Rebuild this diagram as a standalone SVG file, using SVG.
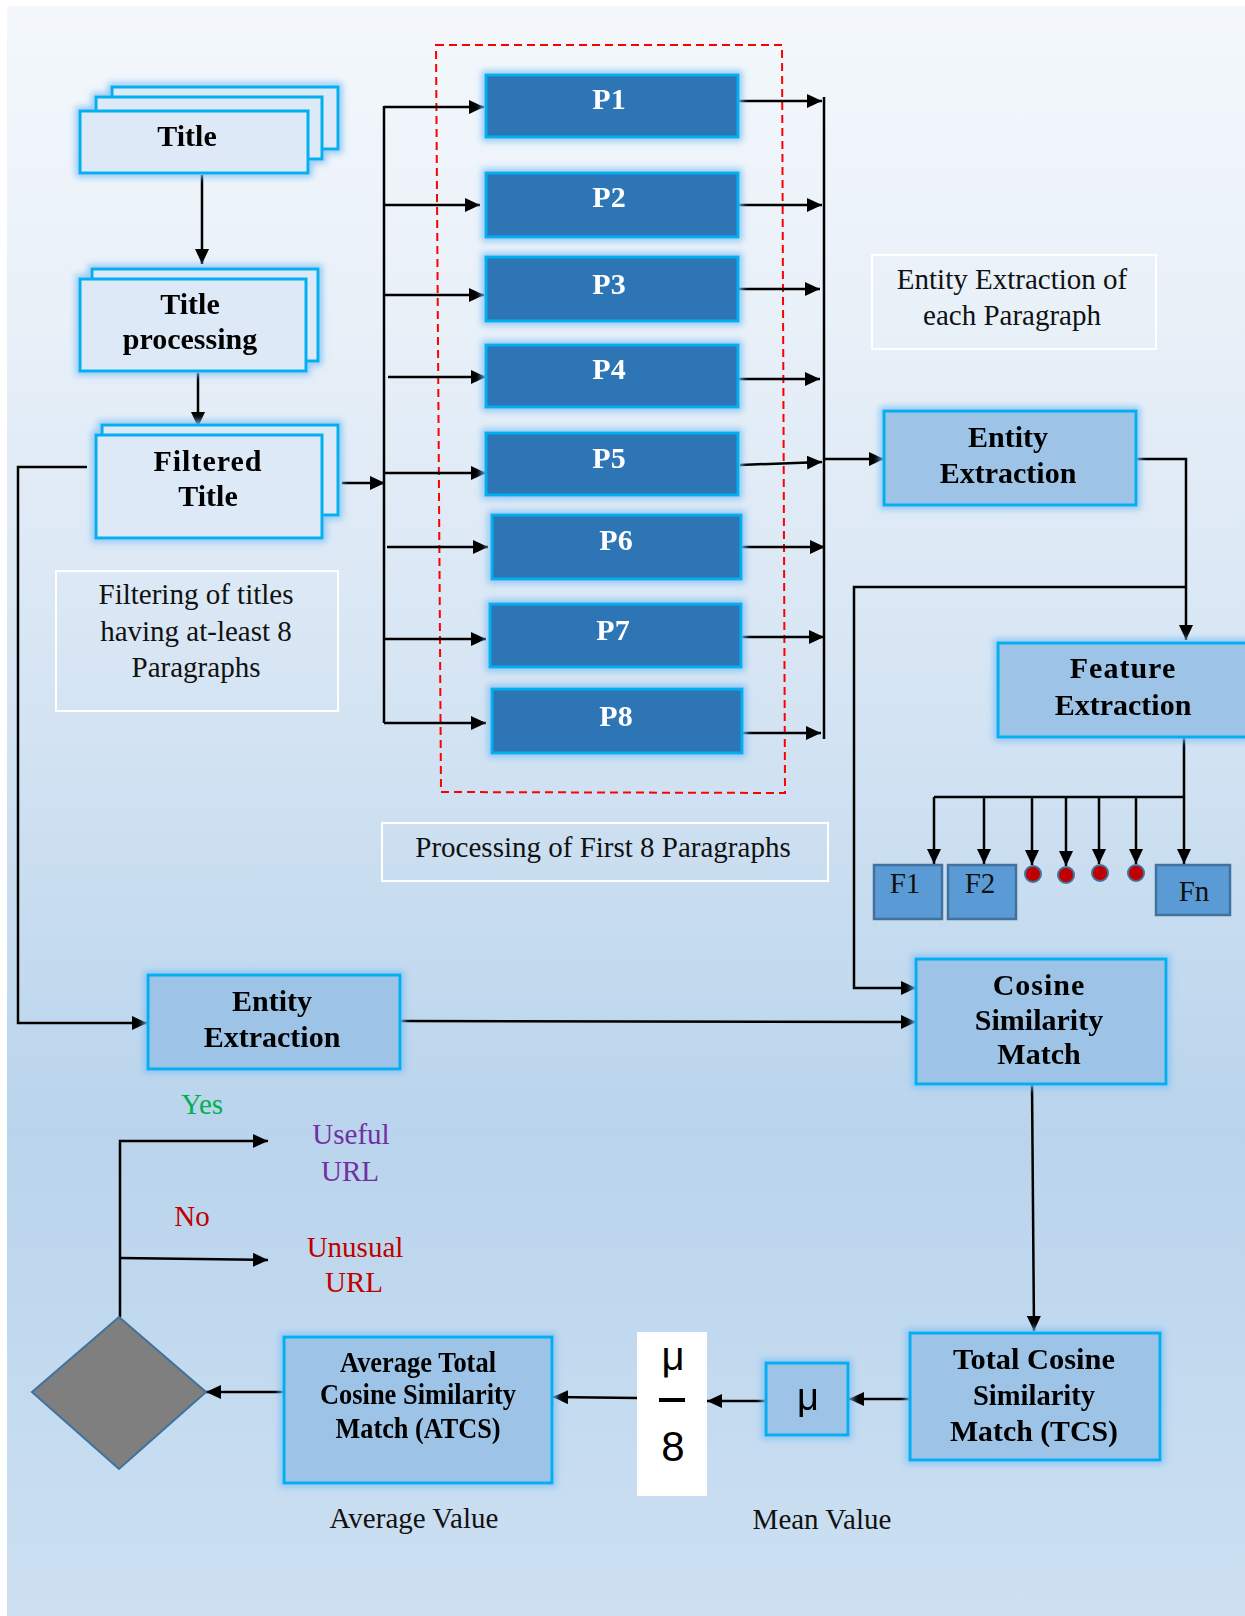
<svg xmlns="http://www.w3.org/2000/svg" width="1245" height="1616" viewBox="0 0 1245 1616">
  <defs>
    <linearGradient id="bg" x1="0" y1="0" x2="0" y2="1">
      <stop offset="0" stop-color="#f4f8fc"/>
      <stop offset="0.2" stop-color="#e8f0f8"/>
      <stop offset="0.4" stop-color="#d8e6f4"/>
      <stop offset="0.7" stop-color="#b9d4ec"/>
      <stop offset="1" stop-color="#cde0f2"/>
    </linearGradient>
    <filter id="glow" x="-20%" y="-30%" width="140%" height="160%">
      <feMorphology in="SourceAlpha" operator="dilate" radius="3" result="d"/>
      <feGaussianBlur in="d" stdDeviation="3" result="b"/>
      <feFlood flood-color="#86c3f5" flood-opacity="0.85"/>
      <feComposite in2="b" operator="in" result="g"/>
      <feMerge>
        <feMergeNode in="g"/>
        <feMergeNode in="SourceGraphic"/>
      </feMerge>
    </filter>
    <marker id="arrow" markerUnits="userSpaceOnUse" markerWidth="15" markerHeight="14" refX="15" refY="7" orient="auto">
      <path d="M0,0 L15,7 L0,14 z" fill="#000"/>
    </marker>
  </defs>
  <style>
    .light { fill: #dde9f6; stroke: #00b0f0; stroke-width: 3; }
    .para { fill: #2e75b6; stroke: #00b0f0; stroke-width: 3; }
    .mid { fill: #9dc3e6; stroke: #00b0f0; stroke-width: 3; }
    .feat { fill: #5b9bd5; stroke: #41719c; stroke-width: 2.5; }
    .note { fill: none; stroke: #ffffff; stroke-width: 2; }
    .glow { filter: url(#glow); }
    .bold { font-family: "Liberation Serif", "Times New Roman", serif; font-weight: bold; font-size: 30px; fill: #000; text-anchor: middle; }
    .white { fill: #ffffff; }
    .reg { font-family: "Liberation Serif", "Times New Roman", serif; font-size: 29px; fill: #111; text-anchor: middle; }
    .sans { font-family: "Liberation Sans", Arial, sans-serif; fill: #000; text-anchor: middle; }
    .conn path { fill: none; stroke: #000; stroke-width: 2.5; }
    .conn path.arr { marker-end: url(#arrow); }
  </style>

  <!-- page background -->
  <rect x="7" y="6" width="1238" height="1610" fill="url(#bg)"/>

  <!-- dashed frame round the paragraph boxes -->
  <path d="M436,45 L782,45 L785,793 L441,792 Z" fill="none" stroke="#ff0000" stroke-width="2" stroke-dasharray="8,5"/>

  <!-- connectors -->
  <g id="connectors" class="conn">
    <path class="arr" d="M202,175 V264"/>
    <path class="arr" d="M198,373 V427"/>
    <path class="arr" d="M342,483 H385"/>
    <path d="M384,106 V723"/>
    <path class="arr" d="M384,107 H484"/>
    <path class="arr" d="M384,205 H480"/>
    <path class="arr" d="M384,295 H484"/>
    <path class="arr" d="M388,377 H486"/>
    <path class="arr" d="M384,473 H486"/>
    <path class="arr" d="M387,547 H488"/>
    <path class="arr" d="M384,639 H486"/>
    <path class="arr" d="M384,723 H486"/>
    <path class="arr" d="M734,101 H822"/>
    <path class="arr" d="M738,205 H822"/>
    <path class="arr" d="M738,289 H820"/>
    <path class="arr" d="M738,379 H820"/>
    <path class="arr" d="M740,465 L822,462"/>
    <path class="arr" d="M741,547 H825"/>
    <path class="arr" d="M742,637 H824"/>
    <path class="arr" d="M740,733 H821"/>
    <path d="M824,97 V739"/>
    <path class="arr" d="M824,459 H884"/>
    <path class="arr" d="M1136,459 H1186 V640"/>
    <path class="arr" d="M1185,587 H854 V988 H916"/>
    <path d="M1184,737 V797"/>
    <path d="M934,797 H1184"/>
    <path class="arr" d="M934,797 V864"/>
    <path class="arr" d="M984,797 V864"/>
    <path class="arr" d="M1032,797 V865"/>
    <path class="arr" d="M1066,797 V866"/>
    <path class="arr" d="M1099,797 V864"/>
    <path class="arr" d="M1136,797 V864"/>
    <path class="arr" d="M1184,797 V864"/>
    <path class="arr" d="M87,467 H18 V1023 H147"/>
    <path class="arr" d="M400,1021 L916,1022"/>
    <path class="arr" d="M1032,1084 L1034,1331"/>
    <path class="arr" d="M910,1399 H849"/>
    <path class="arr" d="M766,1401 H707"/>
    <path class="arr" d="M637,1398 L553,1397"/>
    <path class="arr" d="M284,1392 H206"/>
    <path class="arr" d="M120,1317 V1141 H268"/>
    <path class="arr" d="M120,1258 L268,1260"/>
  </g>

  <!-- title input -->
  <g id="title" class="glow">
    <rect class="light" x="112" y="87" width="226" height="62"/>
    <rect class="light" x="96" y="97" width="226" height="62"/>
    <rect class="light" x="80" y="111" width="228" height="62"/>
    <text class="bold" x="187" y="146">Title</text>
  </g>

  <g id="title-processing" class="glow">
    <rect class="light" x="92" y="269" width="226" height="92"/>
    <rect class="light" x="80" y="279" width="226" height="92"/>
    <text class="bold" x="190" y="314">Title</text>
    <text class="bold" x="190" y="349">processing</text>
  </g>

  <g id="filtered-title" class="glow">
    <rect class="light" x="102" y="425" width="236" height="90"/>
    <rect class="light" x="96" y="435" width="226" height="103"/>
    <text class="bold" x="208" y="471" letter-spacing="1">Filtered</text>
    <text class="bold" x="208" y="506">Title</text>
  </g>

  <g id="filter-note">
    <rect class="note" x="56" y="571" width="282" height="140"/>
    <text class="reg" x="196" y="604">Filtering of titles</text>
    <text class="reg" x="196" y="641">having at-least 8</text>
    <text class="reg" x="196" y="677">Paragraphs</text>
  </g>

  <!-- paragraphs -->
  <g id="p1" class="glow"><rect class="para" x="486" y="75" width="252" height="62"/><text class="bold white" x="609" y="109">P1</text></g>
  <g id="p2" class="glow"><rect class="para" x="486" y="173" width="252" height="64"/><text class="bold white" x="609" y="207">P2</text></g>
  <g id="p3" class="glow"><rect class="para" x="486" y="257" width="252" height="64"/><text class="bold white" x="609" y="294">P3</text></g>
  <g id="p4" class="glow"><rect class="para" x="486" y="345" width="252" height="62"/><text class="bold white" x="609" y="379">P4</text></g>
  <g id="p5" class="glow"><rect class="para" x="486" y="433" width="252" height="62"/><text class="bold white" x="609" y="468">P5</text></g>
  <g id="p6" class="glow"><rect class="para" x="492" y="515" width="249" height="64"/><text class="bold white" x="616" y="550">P6</text></g>
  <g id="p7" class="glow"><rect class="para" x="490" y="604" width="251" height="63"/><text class="bold white" x="613" y="640">P7</text></g>
  <g id="p8" class="glow"><rect class="para" x="492" y="689" width="250" height="64"/><text class="bold white" x="616" y="726">P8</text></g>

  <g id="paragraph-note">
    <rect class="note" x="382" y="823" width="446" height="58"/>
    <text class="reg" x="603" y="857" font-size="30">Processing of First 8 Paragraphs</text>
  </g>

  <g id="entity-note">
    <rect class="note" x="872" y="255" width="284" height="94"/>
    <text class="reg" x="1012" y="289">Entity Extraction of</text>
    <text class="reg" x="1012" y="325">each Paragraph</text>
  </g>

  <g id="entity-extraction-paragraphs" class="glow">
    <rect class="mid" x="884" y="411" width="252" height="94"/>
    <text class="bold" x="1008" y="447">Entity</text>
    <text class="bold" x="1008" y="483">Extraction</text>
  </g>

  <g id="feature-extraction" class="glow">
    <rect class="mid" x="998" y="643" width="262" height="94"/>
    <text class="bold" x="1123" y="678" letter-spacing="1">Feature</text>
    <text class="bold" x="1123" y="715">Extraction</text>
  </g>

  <!-- feature vector -->
  <g id="f1"><rect class="feat" x="874" y="865" width="68" height="54"/><text class="reg" x="905" y="893" font-size="21">F1</text></g>
  <g id="f2"><rect class="feat" x="948" y="865" width="68" height="54"/><text class="reg" x="980" y="893" font-size="21">F2</text></g>
  <g id="dots" fill="#c00000" stroke="#41719c" stroke-width="2">
    <circle cx="1033" cy="874" r="8"/>
    <circle cx="1066" cy="875" r="8"/>
    <circle cx="1100" cy="873" r="8"/>
    <circle cx="1136" cy="873" r="8"/>
  </g>
  <g id="fn"><rect class="feat" x="1156" y="865" width="74" height="50"/><text class="reg" x="1194" y="901" font-size="30">Fn</text></g>

  <g id="entity-extraction-title" class="glow">
    <rect class="mid" x="148" y="975" width="252" height="94"/>
    <text class="bold" x="272" y="1011">Entity</text>
    <text class="bold" x="272" y="1047">Extraction</text>
  </g>

  <g id="cosine-similarity" class="glow">
    <rect class="mid" x="916" y="959" width="250" height="125"/>
    <text class="bold" x="1039" y="995" letter-spacing="1">Cosine</text>
    <text class="bold" x="1039" y="1030">Similarity</text>
    <text class="bold" x="1039" y="1064">Match</text>
  </g>

  <g id="tcs" class="glow">
    <rect class="mid" x="910" y="1333" width="250" height="127"/>
    <text class="bold" x="1034" y="1369" textLength="162" lengthAdjust="spacingAndGlyphs">Total Cosine</text>
    <text class="bold" x="1034" y="1405" textLength="122" lengthAdjust="spacingAndGlyphs">Similarity</text>
    <text class="bold" x="1034" y="1441" textLength="168" lengthAdjust="spacingAndGlyphs">Match (TCS)</text>
  </g>

  <g id="mean" class="glow">
    <rect class="mid" x="766" y="1363" width="82" height="72"/>
    <text class="sans" x="808" y="1410" font-size="38">μ</text>
  </g>

  <g id="fraction">
    <rect x="637" y="1332" width="70" height="164" fill="#ffffff"/>
    <text class="sans" x="673" y="1370" font-size="40">μ</text>
    <rect x="659" y="1398" width="26" height="4" fill="#000"/>
    <text class="sans" x="673" y="1461" font-size="42">8</text>
  </g>

  <g id="atcs" class="glow">
    <rect class="mid" x="284" y="1337" width="268" height="146"/>
    <text class="bold" x="418" y="1372" font-size="24" textLength="156" lengthAdjust="spacingAndGlyphs">Average  Total</text>
    <text class="bold" x="418" y="1404" font-size="24" textLength="196" lengthAdjust="spacingAndGlyphs">Cosine Similarity</text>
    <text class="bold" x="418" y="1438" font-size="24" textLength="165" lengthAdjust="spacingAndGlyphs">Match  (ATCS)</text>
  </g>

  <g id="decision">
    <path d="M119,1317 L206,1392 L119,1469 L32,1392 Z" fill="#7f7f7f" stroke="#41719c" stroke-width="2"/>
  </g>

  <!-- outcome labels -->
  <text class="reg" x="202" y="1114" font-size="30" style="fill:#00b050">Yes</text>
  <text class="reg" x="351" y="1144" font-size="30" style="fill:#7030a0">Useful</text>
  <text class="reg" x="350" y="1181" font-size="30" style="fill:#7030a0">URL</text>
  <text class="reg" x="192" y="1226" font-size="30" style="fill:#c00000">No</text>
  <text class="reg" x="355" y="1257" font-size="30" style="fill:#c00000">Unusual</text>
  <text class="reg" x="354" y="1292" font-size="30" style="fill:#c00000">URL</text>

  <text class="reg" x="414" y="1528" font-size="30">Average Value</text>
  <text class="reg" x="822" y="1529" font-size="30">Mean Value</text>
</svg>
